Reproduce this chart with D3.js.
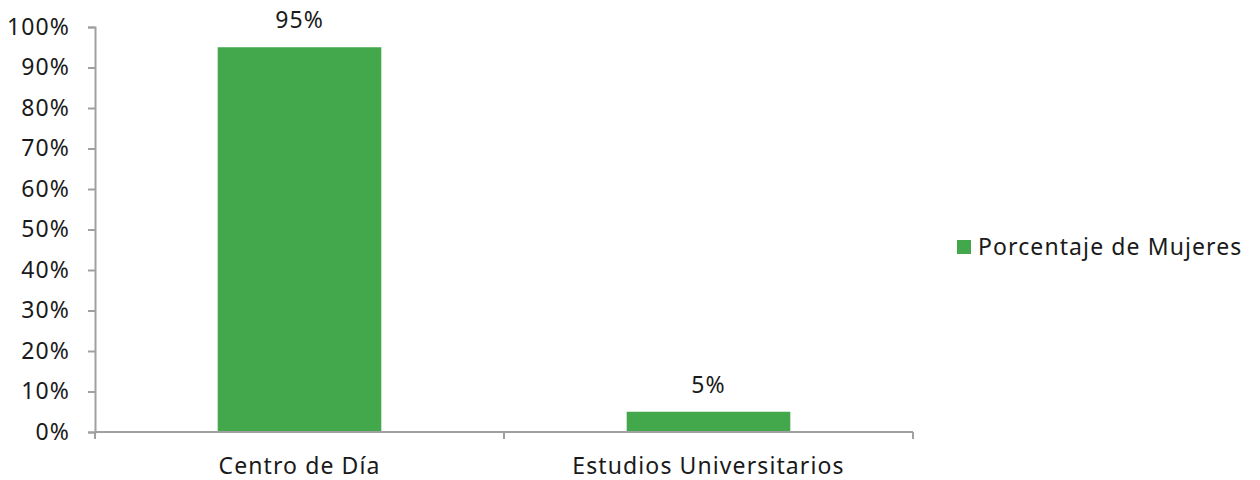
<!DOCTYPE html>
<html lang="es">
<head>
<meta charset="utf-8">
<title>Porcentaje de Mujeres</title>
<script src="https://cdn.jsdelivr.net/npm/d3@7"></script>
<style>
  body { margin: 0; background: #fff; }
  text { font-family: "Noto Sans", "Open Sans", sans-serif; fill: #1a1a1a; letter-spacing: 1.1px; }
</style>
</head>
<body>
<script>
var categories = ["Centro de Día", "Estudios Universitarios"];
var values = [95, 5];
var seriesName = "Porcentaje de Mujeres";
var yTicks = [0, 10, 20, 30, 40, 50, 60, 70, 80, 90, 100];

var w = 1260, h = 480;
var mLeft = 95, mRight = 913, mTop = 27, mBottom = 432;
var green = "#42a84b", axisColor = "#a0a0a0";
var fs = "23px";

var svg = d3.select("body").append("svg")
  .attr("width", w).attr("height", h);

var x = d3.scaleBand().domain(categories).range([mLeft, mRight]).paddingInner(0).paddingOuter(0);
var y = d3.scaleLinear().domain([0, 100]).range([mBottom, mTop]);
var barW = x.bandwidth() * 0.4;

// y axis
var yAxis = svg.append("g").attr("transform", "translate(" + mLeft + ",0)")
  .call(d3.axisLeft(y).tickValues(yTicks).tickSize(7).tickPadding(18)
    .tickFormat(function(d) { return d + "%"; }));
yAxis.select(".domain").attr("stroke", axisColor).attr("stroke-width", 2);
yAxis.selectAll(".tick line").attr("stroke", axisColor).attr("stroke-width", 2);
yAxis.selectAll(".tick text").attr("font-size", fs).attr("font-family", null).attr("fill", "#1a1a1a");

// bars
svg.selectAll("rect.bar").data(values).enter().append("rect")
  .attr("class", "bar")
  .attr("x", function(d, i) { return x(categories[i]) + (x.bandwidth() - barW) / 2; })
  .attr("y", function(d) { return y(d); })
  .attr("width", barW)
  .attr("height", function(d) { return mBottom - y(d); })
  .attr("fill", green);

// x axis
var xAxis = svg.append("g").attr("transform", "translate(0," + mBottom + ")");
xAxis.append("line").attr("x1", mLeft).attr("x2", mRight)
  .attr("stroke", axisColor).attr("stroke-width", 2);
var bounds = [mLeft].concat(categories.map(function(c) { return x(c) + x.bandwidth(); }));
xAxis.selectAll("line.tk").data(bounds).enter().append("line")
  .attr("class", "tk")
  .attr("x1", function(d) { return d; }).attr("x2", function(d) { return d; })
  .attr("y1", 0).attr("y2", 7)
  .attr("stroke", axisColor).attr("stroke-width", 2);
xAxis.selectAll("text").data(categories).enter().append("text")
  .attr("x", function(d) { return x(d) + x.bandwidth() / 2; })
  .attr("y", 42)
  .attr("text-anchor", "middle")
  .attr("font-size", fs)
  .text(function(d) { return d; });

// value labels
svg.selectAll("text.lbl").data(values).enter().append("text")
  .attr("class", "lbl")
  .attr("x", function(d, i) { return x(categories[i]) + x.bandwidth() / 2; })
  .attr("y", function(d) { return y(d) - 19; })
  .attr("text-anchor", "middle")
  .attr("font-size", fs)
  .text(function(d) { return d + "%"; });

// legend
var lg = svg.append("g").attr("transform", "translate(957,240)");
lg.append("rect").attr("width", 14).attr("height", 14).attr("fill", green);
lg.append("text").attr("x", 21).attr("y", 15).attr("font-size", fs).text(seriesName);
</script>
</body>
</html>
